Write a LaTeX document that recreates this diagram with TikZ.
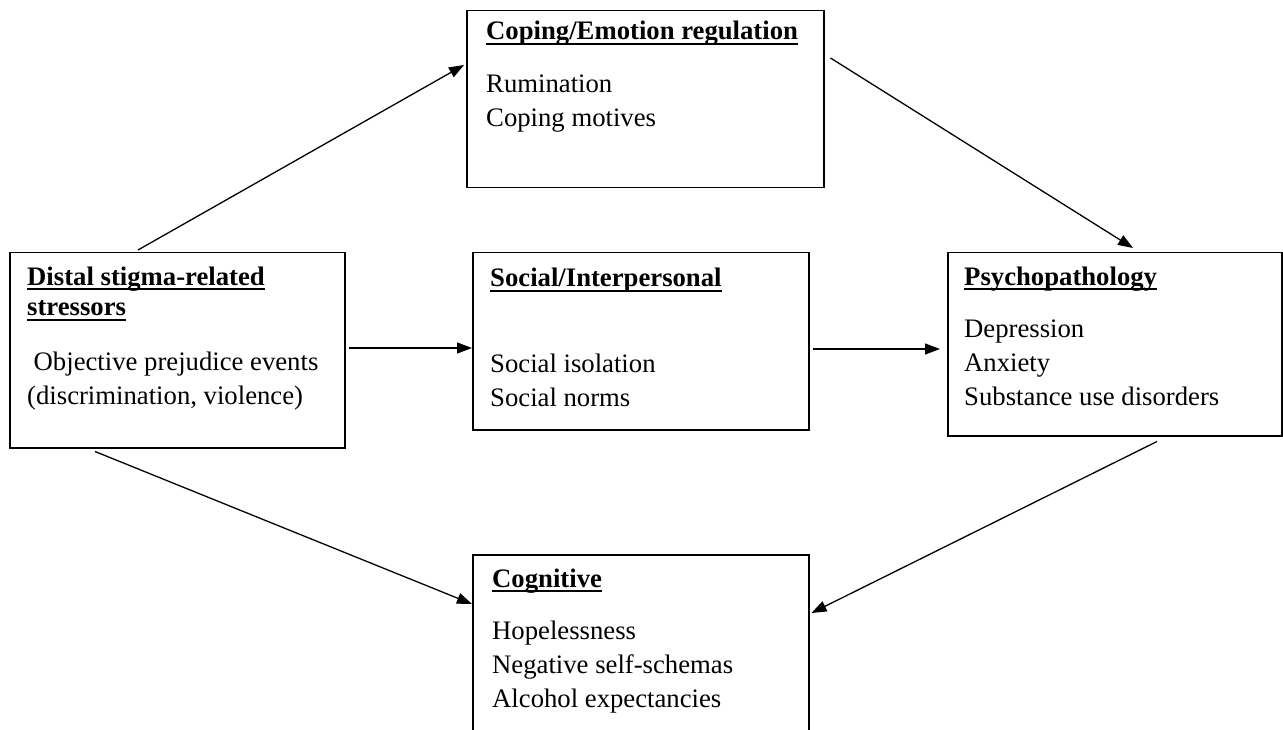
\documentclass[tikz,border=0pt]{standalone}
\usepackage{fontspec}
\setmainfont{Liberation Serif}
\usetikzlibrary{calc,arrows.meta}

% bold heading with a Word-style underline that crosses descenders
\newcommand\ulbf[1]{\setbox0\hbox{\textbf{#1}}\rlap{\rule[-5pt]{\wd0}{1.8pt}}\box0}

\tikzset{
  box/.style={draw, line width=1.5pt, rectangle, inner sep=0pt, anchor=north west},
  label/.style={anchor=base west, inner sep=0pt, font=\fontsize{26.7}{34}\selectfont},
  link/.style={line width=1.3pt, -{Triangle[length=15pt,width=11pt]}}
}

\begin{document}
\begin{tikzpicture}[x=1pt,y=-1pt]
\useasboundingbox (0,0) rectangle (1283,730);
\clip (0,0) rectangle (1283,730);
\fill[white] (0,0) rectangle (1283,730);

% boxes
\node[box, minimum width=335pt, minimum height=195pt] (A) at (9,252) {};
\node[box, minimum width=357pt, minimum height=177pt] (B) at (466,10) {};
\node[box, minimum width=336pt, minimum height=177pt] (C) at (472,252) {};
\node[box, minimum width=334pt, minimum height=183pt] (D) at (947,252) {};
\node[box, minimum width=336pt, minimum height=230pt] (E) at (472,554) {};

% distal stressors
\node[label] (Ah1) at (27,285) {\ulbf{Distal stigma-related}};
\node[label] (Ah2) at (27,316) {\ulbf{stressors}};
\node[label] (Ab) at (27,370) {\begin{tabular}[t]{@{}l@{}}\hspace{6.5pt}Objective prejudice events\\(discrimination, violence)\end{tabular}};

% coping / emotion regulation
\node[label] (Bh) at (486,40) {\ulbf{Coping/Emotion regulation}};
\node[label] (Bb) at (486,93) {\begin{tabular}[t]{@{}l@{}}Rumination\\Coping motives\end{tabular}};

% social / interpersonal
\node[label] (Ch) at (490,287) {\ulbf{Social/Interpersonal}};
\node[label] (Cb) at (490,372) {\begin{tabular}[t]{@{}l@{}}Social isolation\\Social norms\end{tabular}};

% psychopathology
\node[label] (Dh) at (964,285) {\ulbf{Psychopathology}};
\node[label] (Db) at (964,337) {\begin{tabular}[t]{@{}l@{}}Depression\\Anxiety\\Substance use disorders\end{tabular}};

% cognitive
\node[label] (Eh) at (492,587) {\ulbf{Cognitive}};
\node[label] (Eb) at (492,639) {\begin{tabular}[t]{@{}l@{}}Hopelessness\\Negative self-schemas\\Alcohol expectancies\end{tabular}};

% connectors
\draw[link] ($(A.north west)+(129,-2)$) -- ($(B.north west)+(-2,55)$);
\draw[link] ($(B.north east)+(6,48)$) -- ($(D.north west)+(186,-4)$);
\draw[link] ($(A.north east)+(3,96)$) -- ($(C.north west)+(0,96)$);
\draw[link] ($(C.north east)+(3,97)$) -- ($(D.north west)+(-7,97)$);
\draw[link] ($(A.south west)+(86,3)$) -- ($(E.north west)+(0,50)$);
\draw[link] ($(D.south west)+(210,5)$) -- ($(E.north east)+(2,59)$);
\end{tikzpicture}
\end{document}
